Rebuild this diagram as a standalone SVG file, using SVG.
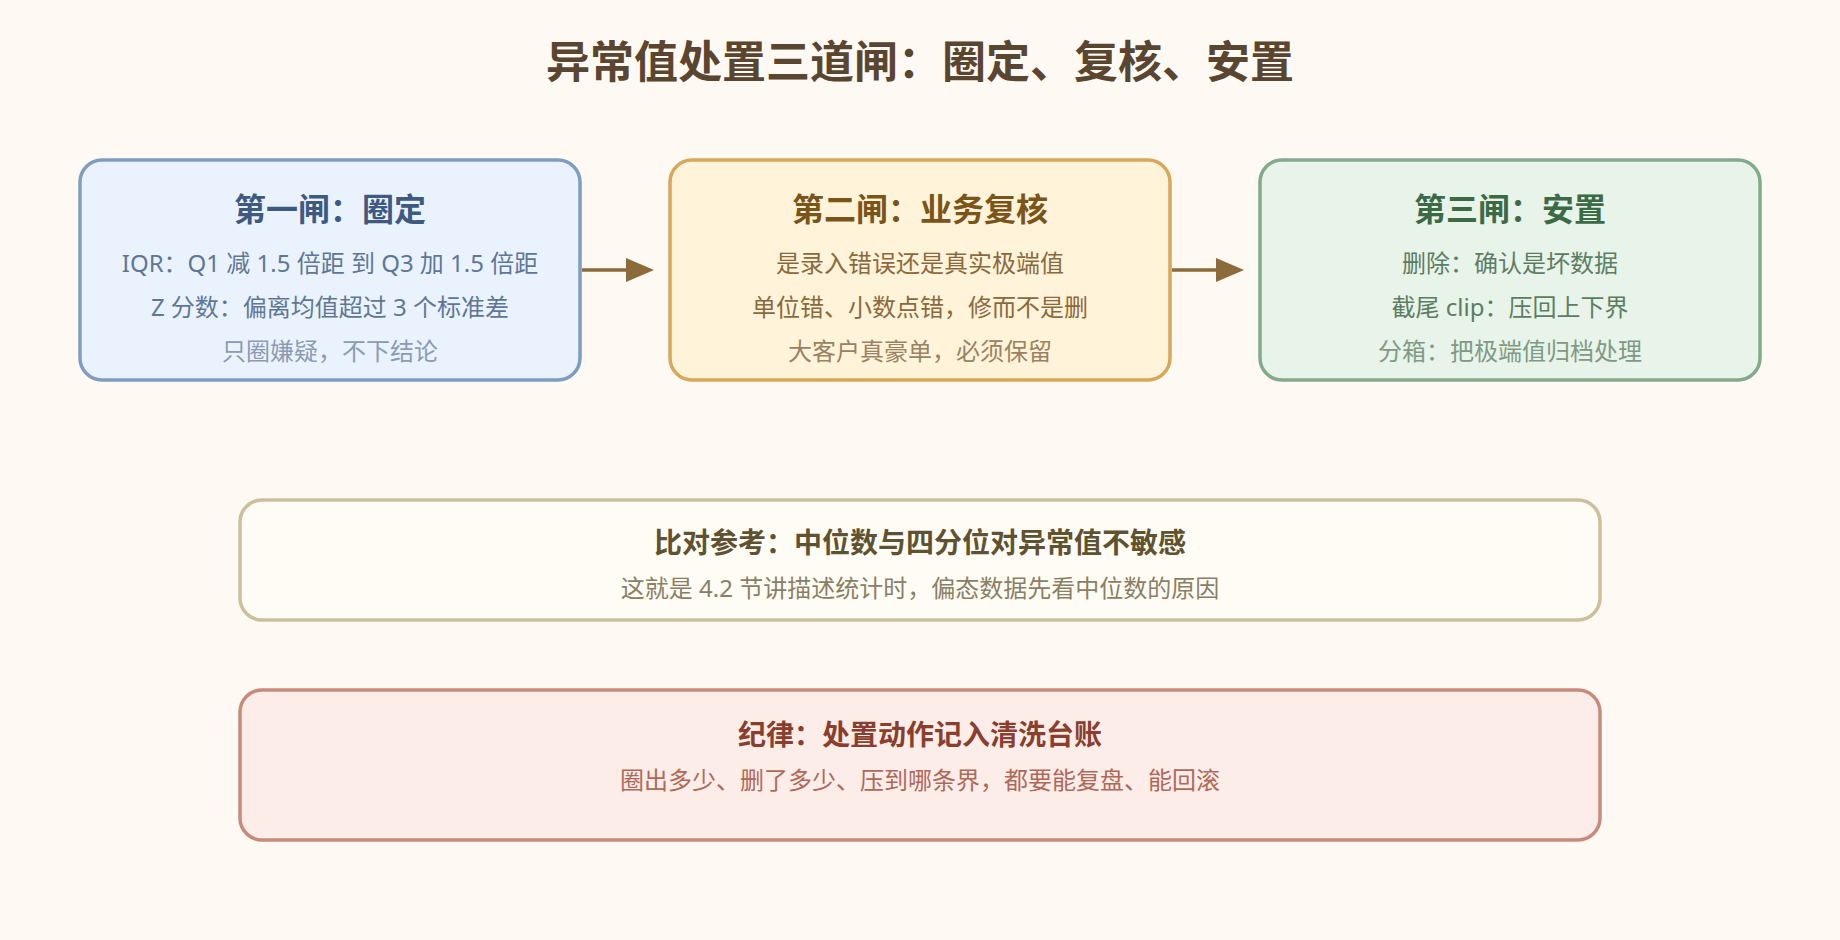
<svg xmlns="http://www.w3.org/2000/svg" width="1840" height="940" viewBox="0 0 1840 940">
<style>
text{font-family:"Noto Sans","Noto Sans CJK SC",sans-serif;text-anchor:middle}
.ttl{font-size:44px;font-weight:700;fill:#5a4530}
.h{font-size:32px;font-weight:700}
.h2{font-size:28px;font-weight:700}
.b{font-size:24px}
.box{stroke-width:3.5}
.arr{stroke:#8b6b3a;stroke-width:3.5;fill:none}
.ah{fill:#8b6b3a}
</style>
<rect width="1840" height="940" fill="#fef9f2"/>
<text class="ttl" x="920" y="78">异常值处置三道闸：圈定、复核、安置</text>
<g id="gate1">
<rect class="box" x="80" y="160" width="500" height="220" rx="22" fill="#eaf3fd" stroke="#7f9dc2"/>
<text class="h" x="330" y="221" fill="#3f5a80">第一闸：圈定</text>
<text class="b" x="330" y="272" fill="#5f7797">IQR：Q1 减 1.5 倍距 到 Q3 加 1.5 倍距</text>
<text class="b" x="330" y="316" fill="#5f7797">Z 分数：偏离均值超过 3 个标准差</text>
<text class="b" x="330" y="360" fill="#8a9bb3">只圈嫌疑，不下结论</text>
</g>
<g id="gate2">
<rect class="box" x="670" y="160" width="500" height="220" rx="22" fill="#fff3d9" stroke="#d9a75a"/>
<text class="h" x="920" y="221" fill="#7a5418">第二闸：业务复核</text>
<text class="b" x="920" y="272" fill="#8a6a3c">是录入错误还是真实极端值</text>
<text class="b" x="920" y="316" fill="#8a6a3c">单位错、小数点错，修而不是删</text>
<text class="b" x="920" y="360" fill="#9a8262">大客户真豪单，必须保留</text>
</g>
<g id="gate3">
<rect class="box" x="1260" y="160" width="500" height="220" rx="22" fill="#e8f3e9" stroke="#82ab8c"/>
<text class="h" x="1510" y="221" fill="#3d6a46">第三闸：安置</text>
<text class="b" x="1510" y="272" fill="#5b7e62">删除：确认是坏数据</text>
<text class="b" x="1510" y="316" fill="#5b7e62">截尾 clip：压回上下界</text>
<text class="b" x="1510" y="360" fill="#7f9a84">分箱：把极端值归档处理</text>
</g>
<g id="compare">
<rect class="box" x="240" y="500" width="1360" height="120" rx="22" fill="#fffcf5" stroke="#cbc09e"/>
<text class="h2" x="920" y="553" fill="#5e5230">比对参考：中位数与四分位对异常值不敏感</text>
<text class="b" x="920" y="597" fill="#8a7f64">这就是 4.2 节讲描述统计时，偏态数据先看中位数的原因</text>
</g>
<g id="discipline">
<rect class="box" x="240" y="690" width="1360" height="150" rx="22" fill="#fcede8" stroke="#c98a7e"/>
<text class="h2" x="920" y="745" fill="#8a3e2e">纪律：处置动作记入清洗台账</text>
<text class="b" x="920" y="789" fill="#b06858">圈出多少、删了多少、压到哪条界，都要能复盘、能回滚</text>
</g>
<g id="connectors">
<line class="arr" x1="582" y1="270" x2="640" y2="270"/>
<polygon class="ah" points="626,258 654,270 626,282"/>
<line class="arr" x1="1172" y1="270" x2="1230" y2="270"/>
<polygon class="ah" points="1216,258 1244,270 1216,282"/>
</g>
</svg>
